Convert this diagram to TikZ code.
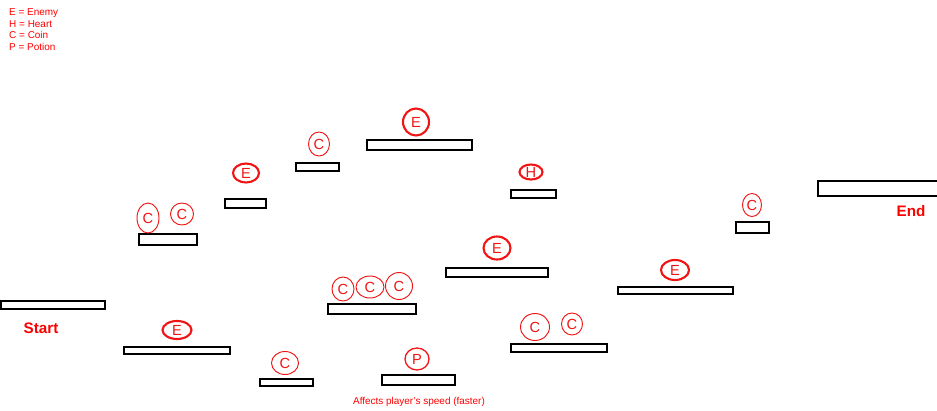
\documentclass[tikz,border=0pt]{standalone}
\usepackage{fontspec}
\setmainfont{Liberation Sans}
\usetikzlibrary{shapes.geometric, positioning}
\definecolor{itemred}{RGB}{240, 20, 20}

\begin{document}
\begin{tikzpicture}[
    x=0.3mm, y=-0.3mm,
    plat/.style={rectangle, draw=black, line width=1.7pt, fill=white, inner sep=0pt},
    sz/.style 2 args={minimum width=#1*0.3mm, minimum height=#2*0.3mm},
    item/.style={ellipse, draw=itemred, text=itemred, inner sep=0pt, font=\fontsize{12.5}{12.5}\selectfont},
    coin/.style={item, line width=0.8pt},
    enemy/.style={item, line width=1.8pt},
    heart/.style={item, line width=1.8pt},
    potion/.style={item, line width=1.1pt},
    note/.style={text=red, inner sep=0pt, font=\fontsize{8.5}{10}\selectfont},
    flaglbl/.style={text=red, inner sep=0pt, font=\fontsize{13}{13}\selectfont\bfseries}
]
    \useasboundingbox (0,0) rectangle (937,410);

    % legend
    \node[note, align=left, anchor=north west] (legend) at (9,8.4)
        {E = Enemy\\H = Heart\\C = Coin\\P = Potion};

    % platforms
    \node[plat, sz={104}{8}]  (start) at (53,304.5) {};
    \node[plat, sz={58}{11}]  (p2)  at (168,239.5) {};
    \node[plat, sz={41}{9}]   (p3)  at (245.5,203.5) {};
    \node[plat, sz={43}{8}]   (p4)  at (317.5,167) {};
    \node[plat, sz={105}{10}] (p5)  at (419.5,145) {};
    \node[plat, sz={45}{7.5}] (p6)  at (533.5,194) {};
    \node[plat, sz={102}{9}]  (p7)  at (497,272.5) {};
    \node[plat, sz={88}{10}]  (p8)  at (372,309) {};
    \node[plat, sz={106}{7.5}] (p9) at (177,350.5) {};
    \node[plat, sz={53}{7.5}] (p10) at (286.5,382.5) {};
    \node[plat, sz={73}{10}]  (p11) at (418.5,380) {};
    \node[plat, sz={96}{8}]   (p12) at (559,348) {};
    \node[plat, sz={115}{7.5}] (p13) at (675.5,290.5) {};
    \node[plat, sz={33}{11}]  (p14) at (752.5,227.5) {};
    \node[plat, sz={124}{15}] (end) at (880,188.5) {};

    \node[flaglbl] (startlbl) at (41,328) {Start};
    \node[flaglbl] (endlbl)   at (911,211) {End};

    % coins
    \node[coin, sz={22}{30}] (c1)  at (148,218) {C};
    \node[coin, sz={23}{22}] (c2)  at (182,214) {C};
    \node[coin, sz={21}{24}] (c3)  at (319,144) {C};
    \node[coin, sz={27}{23}] (c4)  at (285,363) {C};
    \node[coin, sz={22}{24}] (c5)  at (343,289) {C};
    \node[coin, sz={28}{22}] (c6)  at (370,287) {C};
    \node[coin, sz={27}{27}] (c7)  at (399,286) {C};
    \node[coin, sz={29}{27}] (c8)  at (535,327) {C};
    \node[coin, sz={21}{22}] (c9)  at (572,324) {C};
    \node[coin, sz={19}{23}] (c10) at (752,205) {C};

    % enemies, heart, potion
    \node[enemy, sz={26}{19}] (e1) at (246,173) {E};
    \node[enemy, sz={26}{27}] (e2) at (416,122) {E};
    \node[enemy, sz={27}{23}] (e3) at (497,248) {E};
    \node[enemy, sz={29}{18}] (e4) at (177,330) {E};
    \node[enemy, sz={28}{20}] (e5) at (675,270) {E};
    \node[heart, sz={23}{15}] (h1) at (531,172) {H};
    \node[potion, sz={24}{22}] (pot) at (417,359) {P};

    \node[note] (potnote) at (419,402) {Affects player's speed (faster)};
\end{tikzpicture}
\end{document}
